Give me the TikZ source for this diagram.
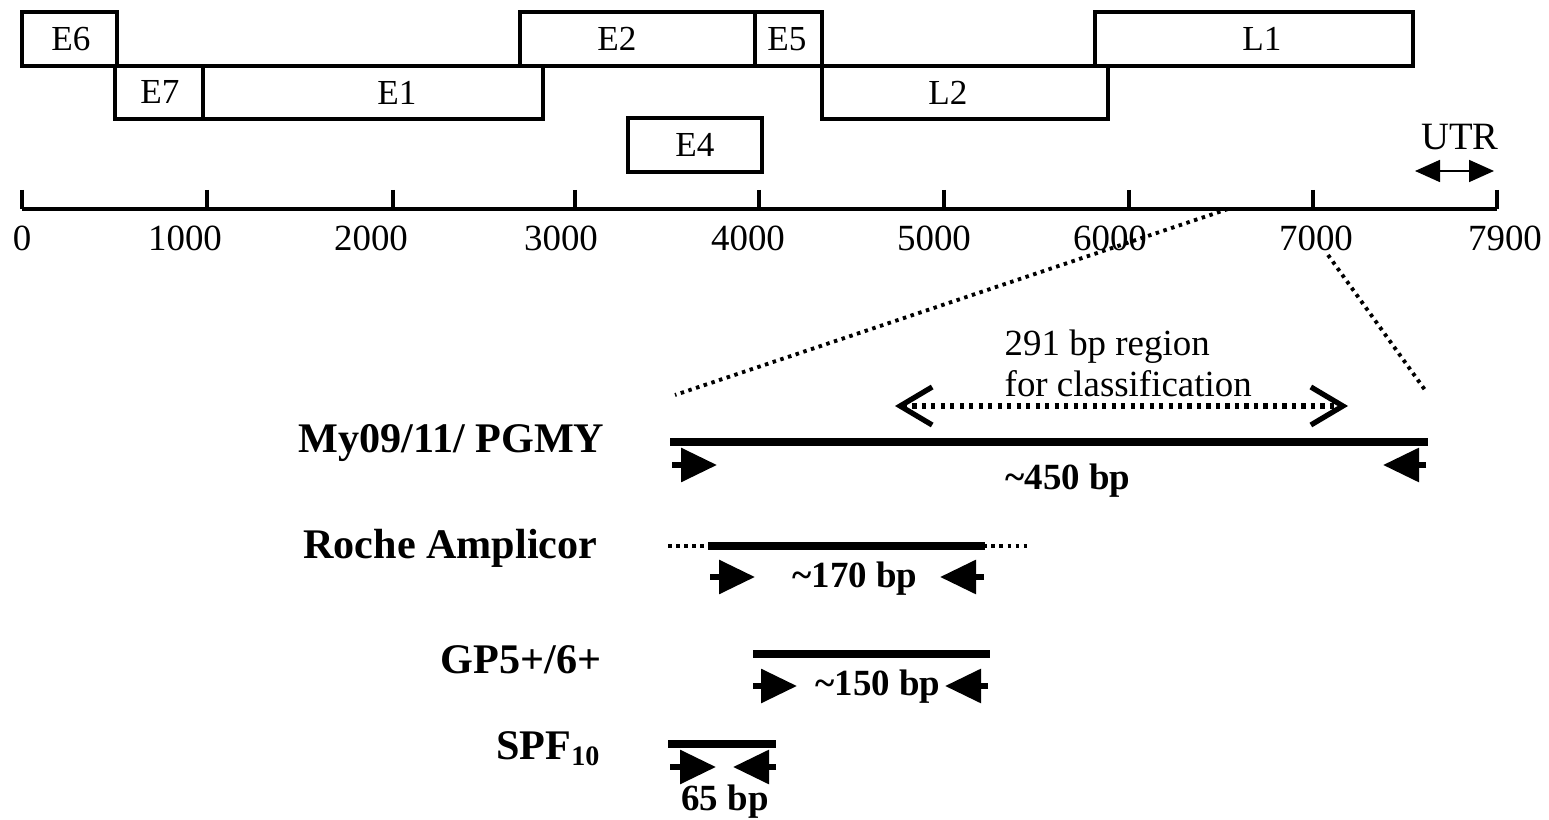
\documentclass[tikz,border=0pt]{standalone}
\usepackage{fontspec}
\setmainfont{Liberation Serif}
\usetikzlibrary{arrows.meta,positioning,calc}
\tikzset{genebox/.style={draw,line width=1.1pt,inner sep=0pt},
 genelbl/.style={font=\fontsize{10}{12}\selectfont},
 axis/.style={line width=1.1pt},
 ticklbl/.style={font=\fontsize{10.5}{12}\selectfont},
 amp/.style={line width=2.5pt},
 zoomline/.style={line width=1.1pt,dash pattern=on 1pt off 1.3pt},
 primer/.style={line width=1.7pt,-{Triangle[length=3.6mm,width=3.3mm]}},
 setname/.style={anchor=east,inner sep=0pt,font=\fontsize{12}{14}\bfseries\selectfont},
 bplbl/.style={font=\fontsize{10.5}{12}\bfseries\selectfont}}
% box from x1 to x2, y1 to y2 (pixel units), label at x
\newcommand\gene[7]{\node[genebox,minimum width={(#3-#2)*0.1mm},minimum height={(#5-#4)*0.1mm}] (#1) at ({(#2+#3)/2},{(#4+#5)/2}) {};
 \node[genelbl] (#1 lbl) at (#6,{(#4+#5)/2}) {#7};}

\begin{document}
\begin{tikzpicture}[x=0.1mm,y=-0.1mm]
\useasboundingbox (0,0) rectangle (1549,820);
% genome map
\gene{e6}{22}{117}{12}{66}{71}{E6}\gene{e2}{520}{755}{12}{66}{617}{E2}\gene{e5}{755}{822}{12}{66}{787}{E5}
\gene{l1}{1095}{1413}{12}{66}{1262}{L1}
\gene{e7}{115}{203}{66}{119}{160}{E7}\gene{e1}{203}{543}{66}{119}{397}{E1}\gene{l2}{822}{1108}{66}{119}{948}{L2}
\gene{e4}{628}{762}{118}{172}{695}{E4}
% axis
\draw[axis] (22,209) -- (1497,209);
\foreach \x/\lx/\t in {22/22/0,207/185/1000,393/371/2000,575/561/3000,759/748/4000,944/934/5000,1129/1110/6000,1313/1316/7000,1497/1505/7900}
 {\draw[axis] (\x,190) -- (\x,209); \node[ticklbl] at (\lx,238) {\t};}
\node[font=\fontsize{11}{12}\selectfont] (utr) at (1460,137) {UTR};
\draw[line width=0.5pt,{Triangle[length=2.5mm,width=2.2mm]}-{Triangle[length=2.5mm,width=2.2mm]}] (1415,171) -- (1494,171);
% zoom lines
\draw[zoomline] (1228,209) -- (675,395);
\draw[zoomline] (1328,255) -- (1425,390);
\node[anchor=west,align=left,inner sep=0pt,font=\fontsize{10.5}{11.6}\selectfont] (region) at (1004,363) {291 bp region\\for classification};
\draw[line width=1.5pt,dash pattern=on 1.2pt off 1.5pt,{Straight Barb[length=3.2mm,width=3.8mm]}-{Straight Barb[length=3.2mm,width=3.8mm]}] (895,406) -- (1348,406);
% amplicons
\node[setname] (my) at (605,443) {My09/11/ PGMY};
\draw[amp] (670,442) -- (1428,442);
\draw[primer] (672,465) -- (717,465); \draw[primer] (1426,465) -- (1383,465);
\node[bplbl] (my bp) at (1068,481) {\textasciitilde450 bp};
\node[setname] (roche) at (598,548) {Roche Amplicor};
\draw[line width=1.1pt,dash pattern=on 1pt off 1.3pt] (668,546) -- (1027,546);
\draw[amp] (708,546) -- (985,546);
\draw[primer] (710,577) -- (755,577); \draw[primer] (984,577) -- (940,577);
\node[bplbl] (roche bp) at (855,579) {\textasciitilde170 bp};
\node[setname] (gp) at (602,660) {GP5+/6+};
\draw[amp] (753,654) -- (990,654);
\draw[primer] (753,686) -- (797,686); \draw[primer] (988,686) -- (945,686);
\node[bplbl] (gp bp) at (878,687) {\textasciitilde150 bp};
\node[setname] (spf) at (602,749) {SPF\textsubscript{10}};
\draw[amp] (668,744) -- (776,744);
\draw[primer] (670,767) -- (716,767); \draw[primer] (776,767) -- (733,767);
\node[bplbl] (spf bp) at (725,802) {65 bp};
\end{tikzpicture}
\end{document}
